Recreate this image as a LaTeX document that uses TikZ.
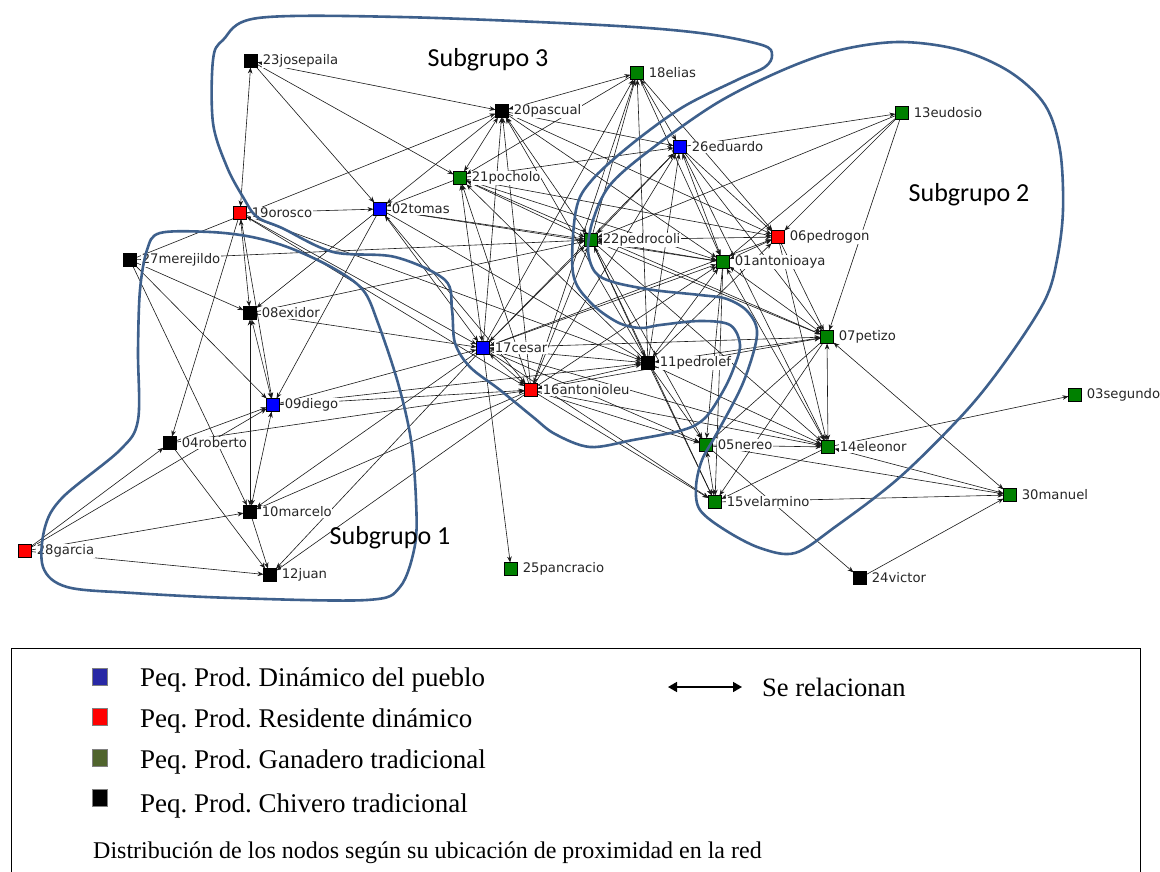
\documentclass[tikz,border=0pt]{standalone}
\usepackage{fontspec}
\setmainfont{Liberation Serif}
\newfontfamily\labfont{DejaVu Sans}
\newfontfamily\subfont{Carlito}
\usetikzlibrary{arrows.meta}
\pgfdeclarelayer{bglayer}
\pgfdeclarelayer{edgelayer}
\pgfsetlayers{bglayer,edgelayer,main}
\definecolor{ngreen}{RGB}{0,128,0}
\definecolor{nblue}{RGB}{0,0,255}
\definecolor{nred}{RGB}{255,0,0}
\definecolor{outl}{RGB}{62,96,140}
\definecolor{lgblue}{RGB}{40,40,165}
\definecolor{lggreen}{RGB}{80,100,45}
\tikzset{
 sq/.style={draw=black, line width=0.4pt, minimum size=13pt, inner sep=0pt, outer sep=0pt},
 G/.style={sq, fill=ngreen}, B/.style={sq, fill=nblue}, R/.style={sq, fill=nred}, K/.style={sq, fill=black},
 lbl/.style={anchor=west, fill=white, inner sep=0.6pt, text=black!85, font=\labfont\fontsize{13.2}{15}\selectfont},
 ar/.style={line width=0.6pt, draw=black!90, -{Stealth[length=6pt,width=4.6pt]}},
 ba/.style={line width=0.6pt, draw=black!90, {Stealth[length=6pt,width=4.6pt]}-{Stealth[length=6pt,width=4.6pt]}},
 grp/.style={draw=outl, line width=2.6pt},
 subg/.style={font=\subfont\fontsize{26}{30}\selectfont, inner sep=0pt},
 legsq/.style={draw=black!50, line width=0.4pt, minimum width=15pt, minimum height=17pt, inner sep=0pt},
 legtx/.style={anchor=base west, inner sep=0pt, font=\fontsize{27}{30}\selectfont},
}
\newcommand\mknd[5]{\node[#1] (n#2) at (#3,#4) {}; \node[lbl] (l#2) at (#3+11,#4) {#5};}
\begin{document}
\frenchspacing
\begin{tikzpicture}[x=1pt,y=-1pt]
\begin{pgfonlayer}{bglayer}
\fill[white] (0,0) rectangle (1160,872);
\end{pgfonlayer}
\useasboundingbox (0,0) rectangle (1160,872);
% nodes
\mknd{K}{23}{251}{61}{23josepaila}
\mknd{K}{20}{502}{111}{20pascual}
\mknd{G}{21}{460}{178}{21pocholo}
\mknd{R}{19}{240}{213}{19orosco}
\mknd{B}{02}{380}{209}{02tomas}
\mknd{G}{18}{637}{73}{18elias}
\mknd{B}{26}{680}{147}{26eduardo}
\mknd{G}{13}{902}{113}{13eudosio}
\mknd{R}{06}{778}{237}{06pedrogon}
\mknd{G}{22}{591}{240}{22pedrocoli}
\mknd{G}{01}{723}{262}{01antonioaya}
\mknd{K}{27}{130}{260}{27merejildo}
\mknd{K}{08}{250}{313}{08exidor}
\mknd{B}{09}{273}{405}{09diego}
\mknd{K}{04}{170}{443}{04roberto}
\mknd{K}{10}{250}{512}{10marcelo}
\mknd{R}{28}{25}{551}{28garcia}
\mknd{K}{12}{270}{575}{12juan}
\mknd{G}{07}{827}{337}{07petizo}
\mknd{K}{11}{648}{363}{11pedrolef}
\mknd{G}{05}{706}{445}{05nereo}
\mknd{G}{14}{828}{447}{14eleonor}
\mknd{G}{15}{715}{502}{15velarmino}
\mknd{G}{30}{1010}{495}{30manuel}
\mknd{G}{03}{1075}{395}{03segundo}
\mknd{K}{24}{860}{578}{24victor}
\mknd{R}{16}{531}{390}{16antonioleu}
\mknd{G}{25}{511}{569}{25pancracio}
\mknd{B}{17}{483}{348}{17cesar}
% edges
\begin{pgfonlayer}{edgelayer}
\foreach \a/\b in {23/21,23/02,27/20,19/02,19/09,19/04,19/16,19/11,02/08,02/09,02/16,02/11,21/02,20/02,
 27/08,27/09,27/10,27/22,08/17,08/22,09/17,09/16,09/11,04/09,28/04,28/09,28/10,28/12,04/12,04/16,10/12,
 17/12,16/12,17/10,16/10,17/25,17/20,17/18,17/26,17/06,17/07,17/05,17/15,17/14,
 16/21,16/01,16/05,16/15,16/14,16/07,16/20,16/18,16/26,
 11/21,11/20,11/18,11/26,11/06,11/05,11/15,11/14,
 22/18,13/22,22/07,22/05,22/15,22/14,
 18/01,20/01,21/01,13/01,01/05,01/15,
 26/06,13/06,20/06,18/06,21/06,06/07,06/14,
 13/07,07/05,07/15,26/07,05/14,05/30,05/24,14/15,14/03,15/30,24/30,
 20/26,21/26,26/13,26/14,18/21,02/22,02/01,21/07}
 \draw[ar] (n\a) -- (n\b);
\foreach \a/\b in {23/19,23/20,19/08,19/17,02/17,08/09,08/10,09/10,17/21,17/22,17/01,17/11,17/16,
 16/11,16/22,11/22,11/01,11/07,22/21,22/20,22/26,22/06,22/01,26/01,06/01,01/07,01/14,07/14,07/30,
 05/15,14/30,18/26,20/21,18/20}
 \draw[ba] (n\a) -- (n\b);
\end{pgfonlayer}
% group outlines
\draw[grp] plot[smooth cycle, tension=0.55] coordinates {(223,40) (213,60) (213,123) (227,167) (243,197) (257,217) (282,228) (333,252) (395,257) (445,280) (452,310) (455,343) (470,367) (500,390) (533,417) (555,434) (590,447) (633,440) (683,430) (705,418) (722,393) (733,370) (740,345) (730,325) (700,321) (660,325) (640,328) (617,322) (590,302) (573,273) (576,210) (592,180) (633,143) (683,107) (737,80) (765,67) (772,55) (762,45) (700,33) (600,25) (400,17) (258,18)};
\draw[grp] plot[smooth cycle, tension=0.55] coordinates {(160,233) (210,232) (252,237) (290,248) (333,268) (363,290) (378,323) (398,383) (411,440) (416,500) (415,545) (400,587) (367,600) (233,598) (133,593) (67,587) (43,567) (45,527) (63,497) (120,450) (138,420) (138,350) (140,290) (147,250)};
\draw[grp] plot[smooth cycle, tension=0.55] coordinates {(717,103) (783,70) (840,50) (900,42) (960,50) (1010,72) (1045,105) (1060,150) (1063,210) (1057,260) (1045,300) (1010,355) (967,410) (900,477) (835,527) (795,553) (760,548) (725,530) (700,510) (696,487) (702,460) (717,433) (743,383) (757,335) (748,312) (727,299) (700,295) (653,290) (613,282) (595,272) (588,250) (593,220) (610,185) (650,150)};
\node[subg] (s3) at (488,60) {Subgrupo 3};
\node[subg] (s2) at (969,195) {Subgrupo 2};
\node[subg] (s1) at (390,538) {Subgrupo 1};
% legend
\draw[line width=0.9pt] (11,873) -- (11,648) -- (1140,648) -- (1140,873);
\node[legsq, fill=lgblue] (k1) at (100,677) {};
\node[legsq, fill=nred] (k2) at (100,717) {};
\node[legsq, fill=lggreen] (k3) at (100,758) {};
\node[legsq, fill=black] (k4) at (100,798) {};
\node[legtx] (t1) at (140,686) {Peq. Prod. Dinámico del pueblo};
\node[legtx] (t2) at (140,727) {Peq. Prod. Residente dinámico};
\node[legtx] (t3) at (140,768) {Peq. Prod. Ganadero tradicional};
\node[legtx] (t4) at (140,812) {Peq. Prod. Chivero tradicional};
\node[legtx, font=\fontsize{26.5}{30}\selectfont] (t5) at (762,696) {Se relacionan};
\coordinate (a1) at (668,687);
\coordinate (a2) at (742,687);
\draw[line width=1.6pt, {Triangle[length=9pt,width=10pt]}-{Triangle[length=9pt,width=10pt]}] (a1) -- (a2);
\node[anchor=base west, inner sep=0pt, font=\fontsize{24}{28}\selectfont] (t6) at (93,858) {Distribución de los nodos según su ubicación de proximidad en la red};
\end{tikzpicture}
\end{document}
